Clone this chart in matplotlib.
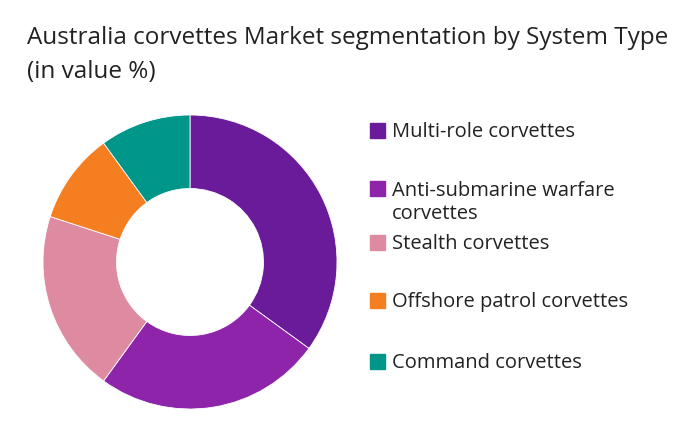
import matplotlib.pyplot as plt
from matplotlib.patches import Rectangle

segments = ['Multi-role corvettes', 'Anti-submarine warfare\ncorvettes',
            'Stealth corvettes', 'Offshore patrol corvettes', 'Command corvettes']
shares = [35, 25, 20, 10, 10]
colors = ['#6a1b9a', '#8e24aa', '#de8aa0', '#f57f20', '#00968a']

plt.rcParams['font.family'] = ['Open Sans', 'DejaVu Sans']

fig = plt.figure(figsize=(6.96, 4.39), dpi=100)
fig.text(27/696, 1 - 38/439, 'Australia corvettes Market segmentation by System Type',
         fontsize=17.5, color='#222222', va='center', ha='left')
fig.text(27/696, 1 - 72/439, '(in value %)',
         fontsize=17.5, color='#222222', va='center', ha='left')

# donut: centre (190, 263), outer radius 147 px
ax = fig.add_axes([(190 - 147)/696, 1 - (263 + 147)/439, 294/696, 294/439])
ax.pie(shares, colors=colors, startangle=90, counterclock=False,
       wedgeprops=dict(width=0.5, edgecolor='white', linewidth=0.6))
ax.set_xlim(-1, 1)
ax.set_ylim(-1, 1)
ax.set_aspect('equal')
ax.axis('off')

# legend drawn by hand to keep the uneven spacing of the original
legend_y = [132, 203, 244, 302, 363]
for label, col, y in zip(segments, colors, legend_y):
    if '\n' in label:
        sq_y = y - 13
    else:
        sq_y = y
    fig.patches.append(Rectangle((370/696, 1 - (sq_y + 7)/439), 15/696, 15/439,
                                 transform=fig.transFigure, color=col))
    fig.text(392/696, 1 - y/439, label, fontsize=14.5, color='#222222',
             va='center', ha='left', linespacing=1.2)

fig.savefig('out.png', dpi=100)
